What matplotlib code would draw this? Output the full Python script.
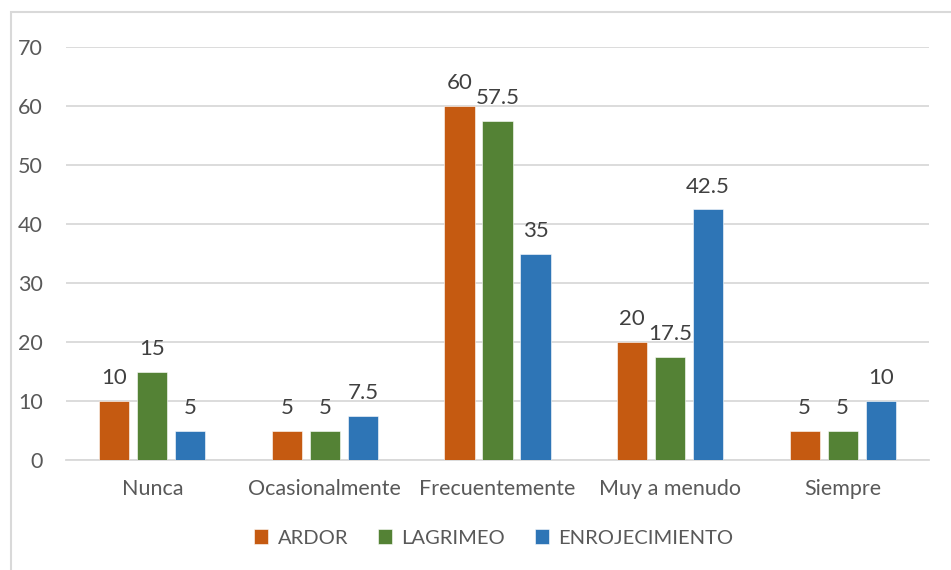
import matplotlib
matplotlib.use("Agg")
import matplotlib.pyplot as plt
import numpy as np
from matplotlib.patches import Rectangle

categories = ["Nunca", "Ocasionalmente", "Frecuentemente", "Muy a menudo", "Siempre"]
ardor = [10, 5, 60, 20, 5]
lagrimeo = [15, 5, 57.5, 17.5, 5]
enrojecimiento = [5, 7.5, 35, 42.5, 10]
series_names = ["ARDOR", "LAGRIMEO", "ENROJECIMIENTO"]
colors = ["#C55A11", "#548235", "#2E75B6"]
yticks = [0, 10, 20, 30, 40, 50, 60, 70]

plt.rcParams["font.family"] = ["Lato", "DejaVu Sans"]
text_color = "#595959"
W, H = 951, 570
fig = plt.figure(figsize=(W / 100, H / 100), dpi=100)

# chart frame
fig.patches.append(Rectangle((11 / W, -0.1), 1.2, (H - 12) / H + 0.1,
                             transform=fig.transFigure, fill=False,
                             edgecolor="#d9d9d9", linewidth=1.5))

ax = fig.add_axes([66 / W, 110 / H, (929 - 66) / W, (460 - 47) / H])
x = np.arange(len(categories))
bw = 0.175
step = 0.22
for i, (vals, name, c) in enumerate(zip([ardor, lagrimeo, enrojecimiento], series_names, colors)):
    pos = x + (i - 1) * step
    ax.bar(pos, vals, width=bw, color=c, label=name, zorder=3,
           edgecolor="white", linewidth=0.4)
    for p, v in zip(pos, vals):
        ax.annotate(f"{v:g}", (p, v), xytext=(0, 12), textcoords="offset points",
                    ha="center", va="baseline", fontsize=16, color="#404040")

ax.set_xlim(-0.5, len(categories) - 0.5)
ax.set_ylim(0, 70)
ax.set_yticks(yticks)
ax.set_xticks(x)
ax.set_xticklabels(categories)
ax.yaxis.grid(True, color="#d9d9d9", linewidth=1.3, zorder=0)
ax.set_axisbelow(True)
for s in ["top", "right", "left"]:
    ax.spines[s].set_visible(False)
ax.spines["bottom"].set_color("#d9d9d9")
ax.spines["bottom"].set_linewidth(1.3)
ax.tick_params(axis="both", length=0, labelsize=15.5, labelcolor=text_color)
ax.tick_params(axis="x", pad=14)
ax.tick_params(axis="y", pad=16.5)

leg = fig.legend(loc="center", bbox_to_anchor=(494 / W, 1 - 538 / H), ncol=3,
                 frameon=False, fontsize=14.5, handlelength=0.7, handleheight=0.7,
                 handletextpad=0.45, columnspacing=1.5)
for t in leg.get_texts():
    t.set_color(text_color)

fig.savefig("out.png", dpi=100)
